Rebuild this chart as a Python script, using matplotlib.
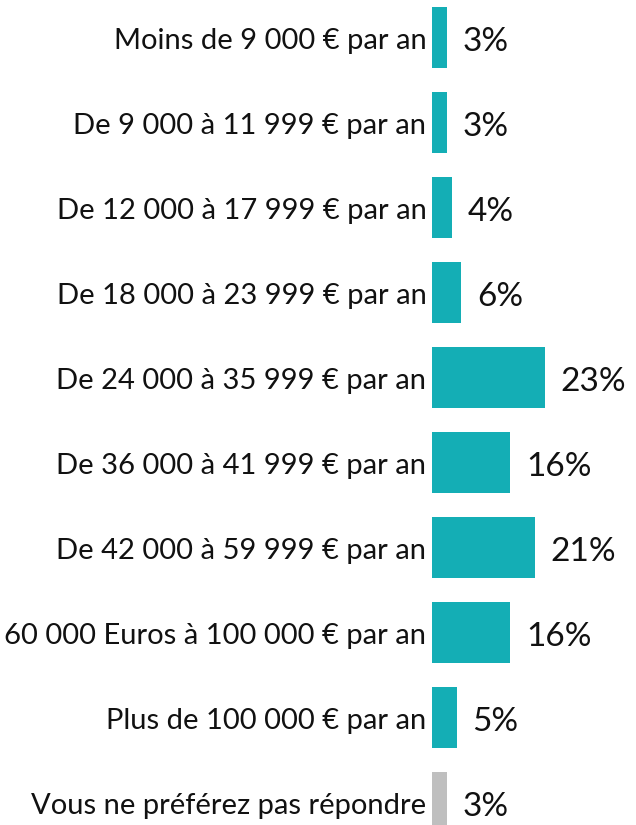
import matplotlib

matplotlib.use("Agg")
import matplotlib.pyplot as plt

CATEGORIES = [
    "Moins de 9 000 € par an",
    "De 9 000 à 11 999 € par an",
    "De 12 000 à 17 999 € par an",
    "De 18 000 à 23 999 € par an",
    "De 24 000 à 35 999 € par an",
    "De 36 000 à 41 999 € par an",
    "De 42 000 à 59 999 € par an",
    "60 000 Euros à 100 000 € par an",
    "Plus de 100 000 € par an",
    "Vous ne préférez pas répondre",
]
VALUES = [3, 3, 4, 6, 23, 16, 21, 16, 5, 3]
VALUE_LABELS = ["3%", "3%", "4%", "6%", "23%", "16%", "21%", "16%", "5%", "3%"]

TEAL = "#14aeb5"
GREY = "#bfbfbf"
COLORS = [TEAL] * 9 + [GREY]

DPI = 100
W_PX, H_PX = 636, 825
BAR_X0 = 432      # pixel where bars start
PX_PER_PCT = 4.9  # bar length scale
ROW_PX = 85       # row pitch
FIRST_PX = 37.5   # centre of first row


def main() -> None:
    plt.rcParams["font.family"] = ["Lato", "DejaVu Sans"]
    fig = plt.figure(figsize=(W_PX / DPI, H_PX / DPI), dpi=DPI)
    ax = fig.add_axes([0, 0, 1, 1])

    ypos = list(range(len(CATEGORIES)))
    ax.barh(ypos, VALUES, height=61 / ROW_PX, color=COLORS, linewidth=0)

    ax.set_xlim(-BAR_X0 / PX_PER_PCT, (W_PX - BAR_X0) / PX_PER_PCT)
    ax.set_ylim((H_PX - FIRST_PX) / ROW_PX, -FIRST_PX / ROW_PX)

    for y, cat, val, lab in zip(ypos, CATEGORIES, VALUES, VALUE_LABELS):
        ax.annotate(
            cat,
            (0, y),
            xytext=(-4, -8),
            textcoords="offset points",
            ha="right",
            va="baseline",
            fontsize=21,
            color="#111111",
        )
        ax.annotate(
            lab,
            (val, y),
            xytext=(11.5, -10),
            textcoords="offset points",
            ha="left",
            va="baseline",
            fontsize=24,
            color="#111111",
        )

    ax.set_axis_off()
    fig.savefig("out.png", dpi=DPI, facecolor="white")
    plt.close(fig)


if __name__ == "__main__":
    main()
